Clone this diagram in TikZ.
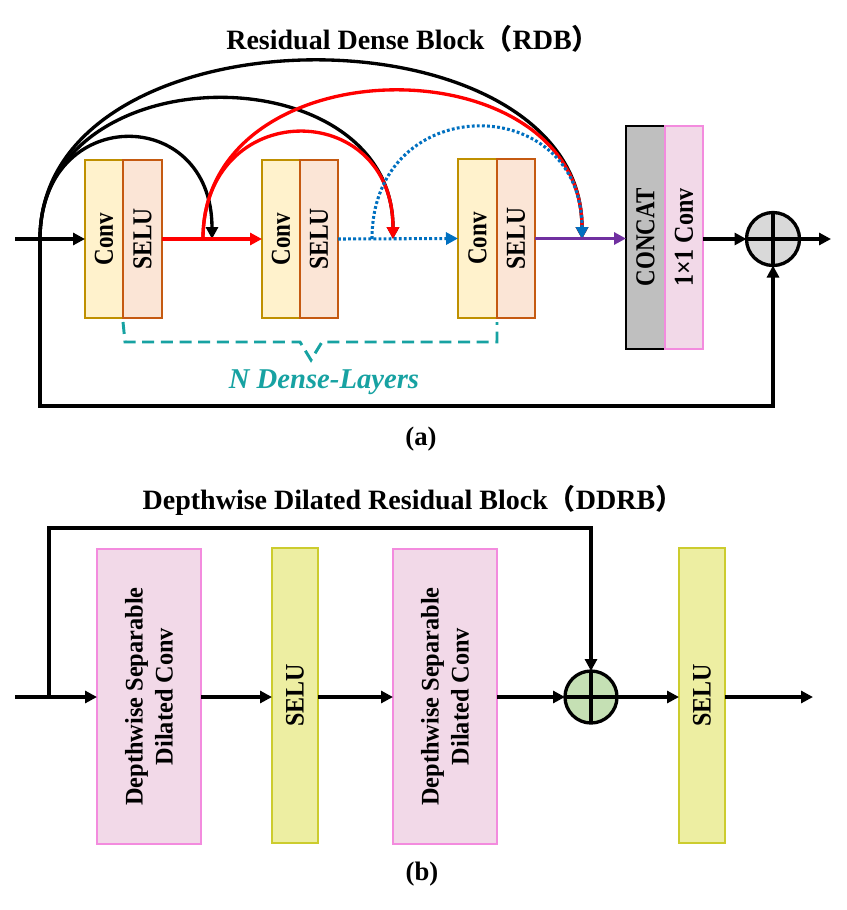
\documentclass[tikz,border=0pt]{standalone}
\usepackage{fontspec}
\setmainfont{Liberation Serif}
\newfontfamily\cjkf{Noto Sans CJK SC}
\usetikzlibrary{arrows.meta}
\definecolor{convfill}{HTML}{FFF2CC}
\definecolor{convdraw}{HTML}{BF9000}
\definecolor{selufill}{HTML}{FBE5D6}
\definecolor{seludraw}{HTML}{C55A11}
\definecolor{pinkfill}{HTML}{F2D9E8}
\definecolor{pinkdraw}{HTML}{F38BDE}
\definecolor{yelfill}{HTML}{EDEEA2}
\definecolor{yeldraw}{HTML}{CCCC2E}
\definecolor{grayfill}{HTML}{BFBFBF}
\definecolor{plusgray}{HTML}{D9D9D9}
\definecolor{plusgreen}{HTML}{C5E0B4}
\definecolor{myred}{HTML}{FF0000}
\definecolor{myblue}{HTML}{0070C0}
\definecolor{mypurple}{HTML}{7030A0}
\definecolor{myteal}{HTML}{17A2A2}
\def\pxu{0.75pt}
\newcommand\pbox[6]{\node[#1, minimum width={(#4-#2)*\pxu}, minimum height={(#5-#3)*\pxu}] (#6) at (#2,#3) {};}
\newcommand\condtxt[2]{\scalebox{#1}[1]{#2}}
\begin{document}
\begin{tikzpicture}[x=0.75pt,y=-0.75pt,
  box/.style={rectangle, inner sep=0pt, outer sep=0pt, line width=1.6pt, anchor=north west},
  convbox/.style={box, draw=convdraw, fill=convfill},
  selubox/.style={box, draw=seludraw, fill=selufill},
  concatbox/.style={box, draw=black, fill=grayfill, line width=2pt},
  pinkbox/.style={box, draw=pinkdraw, fill=pinkfill},
  yelbox/.style={box, draw=yeldraw, fill=yelfill},
  lbl/.style={rotate=90, font=\fontsize{20.5}{22}\selectfont\bfseries, inner sep=0pt},
  lblb/.style={rotate=90, font=\fontsize{19}{22.5}\selectfont\bfseries, inner sep=0pt, align=center},
  titletxt/.style={font=\fontsize{21}{24}\selectfont\bfseries, inner sep=0pt, anchor=base},
  captxt/.style={font=\fontsize{20}{24}\selectfont\bfseries, inner sep=0pt, anchor=base},
  plus/.style={circle, draw=black, line width=2.5pt, inner sep=0pt, outer sep=0pt},
  ln/.style={line width=2.5pt},
  tipstyle/.style={-{Triangle[length=9pt,width=9pt]}},
  arr/.style={ln, tipstyle},
  dotln/.style={line width=2.3pt, dash pattern=on 2.1pt off 1.7pt},
  brace/.style={line width=2.2pt, myteal, dash pattern=on 9pt off 5pt},
]
\useasboundingbox (0,0) rectangle (846,910);

% ---------------- (a) ----------------
\node[titletxt] (ta) at (413,49) {Residual Dense Block{\cjkf （}RDB{\cjkf ）}};

\pbox{convbox}{85}{160}{123}{318}{c1}
\pbox{selubox}{123}{160}{162}{318}{s1}
\pbox{convbox}{262}{160}{300}{318}{c2}
\pbox{selubox}{300}{160}{338}{318}{s2}
\pbox{convbox}{458}{159}{497}{318}{c3}
\pbox{selubox}{497}{159}{535}{318}{s3}
\pbox{concatbox}{626}{126}{665}{349}{cc}
\pbox{pinkbox}{665}{126}{703}{349}{oc}

\node[lbl] (lc1) at (c1.center) {\condtxt{0.84}{Conv}};
\node[lbl] (ls1) at (s1.center) {\condtxt{0.86}{SELU}};
\node[lbl] (lc2) at (c2.center) {\condtxt{0.84}{Conv}};
\node[lbl] (ls2) at (s2.center) {\condtxt{0.86}{SELU}};
\node[lbl] (lc3) at (c3.center) {\condtxt{0.84}{Conv}};
\node[lbl] (ls3) at (s3.center) {\condtxt{0.86}{SELU}};
\node[lbl] (lcc) at (cc.center) {\condtxt{0.84}{CONCAT}};
\node[lbl] (loc) at (oc.center) {\condtxt{0.88}{1×1 Conv}};

\node[plus, fill=plusgray, minimum size={53*\pxu}] (pa) at (773,239) {};
\draw[ln] (pa.north) -- (pa.south) (pa.west) -- (pa.east);

\coordinate (ina) at (15,239);
\coordinate (ska) at (40,239);
\coordinate (skb) at (40,406);
\coordinate (outa) at (831,239);
\coordinate (ra) at (203,239);
\coordinate (ba) at (372,239);
\coordinate (e1) at (212,239);
\coordinate (e2) at (393,239);
\coordinate (e3) at (582,239);

\draw[arr] (ina) -- (c1.west);
\draw[arr] (ska) -- (skb) -- (skb -| pa.south) -- (pa.south);
\draw[arr] (oc.east |- pa.west) -- (pa.west);
\draw[arr] (pa.east) -- (outa);

% black arcs
\draw[arr] (ska) .. controls (40,104) and (212,104) .. (e1);
\draw[arr] (ska) .. controls (40,52) and (393,52) .. (e2);
\draw[arr] (ska) .. controls (40,2) and (582,2) .. (e3);

% red
\draw[arr, myred] (s1.east) -- (c2.west);
\draw[arr, myred] (ra) .. controls (203,42) and (582,42) .. (e3);
\draw[arr, myred] (ra) .. controls (203,97) and (393,97) .. (e2);

% blue dotted
\draw[dotln, myblue, tipstyle] (s2.east) -- (c3.west);
\draw[dotln, myblue, tipstyle] (ba) .. controls (372,90) and (582,90) .. (e3);

% purple
\draw[arr, mypurple] (s3.east) -- (s3.east -| cc.west);

% brace
\draw[brace] (123,322) -- (125,342) -- (300,342) -- (311,360) -- (322,342) -- (497,342) -- (497,322);
\node[font=\fontsize{21.5}{24}\selectfont\bfseries\itshape, text=myteal, inner sep=0pt, anchor=base] (nd) at (324,388) {N Dense-Layers};

\node[captxt] (capa) at (421,445) {(a)};

% ---------------- (b) ----------------
\node[titletxt] (tb) at (413,509) {Depthwise Dilated Residual Block{\cjkf （}DDRB{\cjkf ）}};

\pbox{pinkbox}{97}{549}{201}{844}{d1}
\pbox{yelbox}{272}{548}{318}{843}{sb1}
\pbox{pinkbox}{393}{549}{497}{844}{d2}
\pbox{yelbox}{679}{548}{725}{843}{sb2}

\node[lblb] (ld1) at (d1.center) {\condtxt{0.96}{Depthwise Separable}\\\condtxt{0.96}{Dilated Conv}};
\node[lblb, font=\fontsize{20}{22}\selectfont\bfseries] (lsb1) at (sb1.center) {\condtxt{0.9}{SELU}};
\node[lblb] (ld2) at (d2.center) {\condtxt{0.96}{Depthwise Separable}\\\condtxt{0.96}{Dilated Conv}};
\node[lblb, font=\fontsize{20}{22}\selectfont\bfseries] (lsb2) at (sb2.center) {\condtxt{0.9}{SELU}};

\node[plus, fill=plusgreen, minimum size={52*\pxu}] (pb) at (591,697) {};
\draw[ln] (pb.north) -- (pb.south) (pb.west) -- (pb.east);

\coordinate (inb) at (15,697);
\coordinate (skc) at (49,697);
\coordinate (skd) at (49,528);
\coordinate (outb) at (813,697);

\draw[arr] (inb) -- (inb -| d1.west);
\draw[arr] (skc) -- (skd) -- (skd -| pb.north) -- (pb.north);
\draw[arr] (d1.east |- pb.west) -- (pb.west -| sb1.west);
\draw[arr] (sb1.east |- pb.west) -- (pb.west -| d2.west);
\draw[arr] (d2.east |- pb.west) -- (pb.west);
\draw[arr] (pb.east) -- (pb.east -| sb2.west);
\draw[arr] (sb2.east |- pb.east) -- (outb);

\node[captxt] (capb) at (422,880) {(b)};
\end{tikzpicture}
\end{document}
